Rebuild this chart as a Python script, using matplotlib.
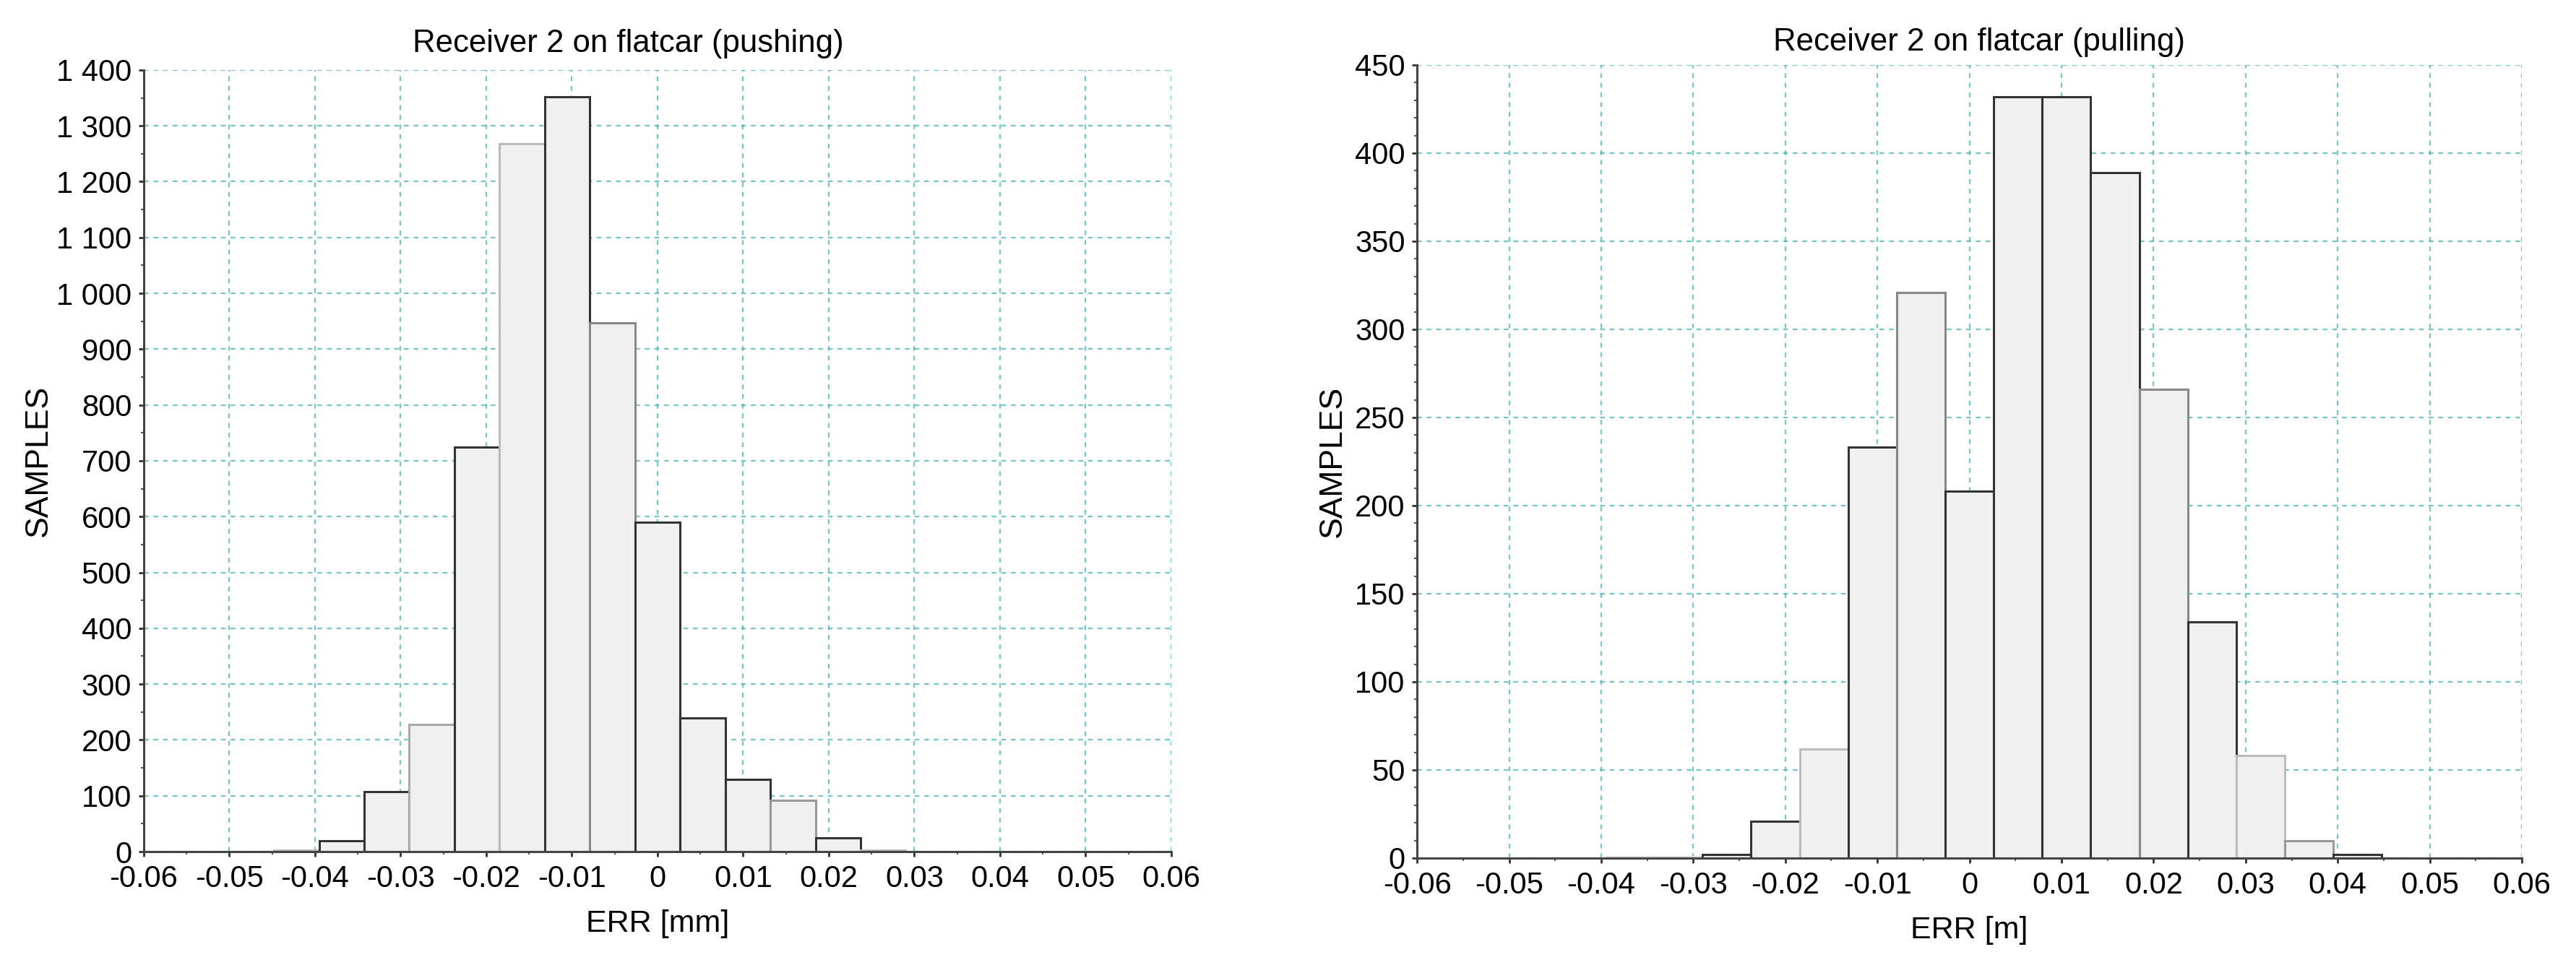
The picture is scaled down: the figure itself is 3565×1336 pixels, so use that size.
import numpy as np
import matplotlib.pyplot as plt
from matplotlib.ticker import MultipleLocator, FuncFormatter

plt.rcParams['font.family'] = ['Liberation Sans', 'DejaVu Sans']

# bin width (same for both histograms)
bin_w = 0.00527

# left: pushing
push_k = [-8, -7, -6, -5, -4, -3, -2, -1, 0, 1, 2, 3, 4, 5]
push_n = [3, 20, 108, 228, 725, 1268, 1352, 947, 590, 240, 130, 92, 25, 3]
push_edge = ['#bbbbbb', '#333333', '#333333', '#aaaaaa', '#333333', '#bbbbbb', '#333333',
             '#888888', '#333333', '#333333', '#333333', '#999999', '#333333', '#bbbbbb']

# right: pulling
pull_k = [-7, -6, -5, -4, -3, -2, -1, 0, 1, 2, 3, 4, 5, 6, 7, 8]
pull_n = [1, 1, 2, 21, 62, 233, 321, 208, 432, 432, 389, 266, 134, 58, 10, 2]
pull_edge = ['#dddddd', '#dddddd', '#333333', '#333333', '#bbbbbb', '#333333', '#888888', '#333333',
             '#333333', '#333333', '#333333', '#888888', '#333333', '#bbbbbb', '#999999', '#333333']

grid_col = '#3aaeae'


def fmt_x(v, pos):
    v = round(v, 2)
    if v == 0:
        return '0'
    return '%g' % v


def fmt_y(v, pos):
    s = '%d' % round(v)
    if len(s) > 3:
        s = s[:-3] + ' ' + s[-3:]
    return s


def draw(ax, k, n, edges, title, title_x, title_pad, xlabel, ylabel_x, ymax, ymajor, yminor):
    centers = np.array(k) * bin_w
    for c, h, e in zip(centers, n, edges):
        ax.bar(c, h, width=bin_w, color='#f0f0f0', edgecolor=e, linewidth=2.2, zorder=3)
    ax.set_xlim(-0.06, 0.06)
    ax.set_ylim(0, ymax)
    ax.xaxis.set_major_locator(MultipleLocator(0.01))
    ax.xaxis.set_minor_locator(MultipleLocator(0.005))
    ax.yaxis.set_major_locator(MultipleLocator(ymajor))
    ax.yaxis.set_minor_locator(MultipleLocator(yminor))
    ax.xaxis.set_major_formatter(FuncFormatter(fmt_x))
    ax.yaxis.set_major_formatter(FuncFormatter(fmt_y))
    ax.grid(True, which='major', color=grid_col, linestyle=(0, (3, 3)), linewidth=1.6, alpha=0.7, zorder=1)
    ax.set_axisbelow(True)
    for s in ['top', 'right']:
        ax.spines[s].set_visible(False)
    for s in ['left', 'bottom']:
        ax.spines[s].set_color('#444444')
        ax.spines[s].set_linewidth(2.2)
        ax.spines[s].set_zorder(4)
    ax.tick_params(which='major', length=5, width=2, color='#333333', labelsize=30)
    ax.tick_params(axis='x', which='major', pad=8)
    ax.tick_params(axis='y', which='major', pad=7)
    ax.tick_params(which='minor', length=3, width=1.5, color='#555555')
    ax.set_title(title, fontsize=31.5, pad=title_pad, x=title_x)
    ax.set_xlabel(xlabel, fontsize=31, labelpad=16)
    ax.set_ylabel('SAMPLES', fontsize=32)
    ax.yaxis.set_label_coords(ylabel_x, 0.5)


fig = plt.figure(figsize=(35.65, 13.36), dpi=100)
ax1 = fig.add_axes([0.0558, 0.1175, 0.3989, 0.810])
ax2 = fig.add_axes([0.5501, 0.1108, 0.4289, 0.8219])

draw(ax1, push_k, push_n, push_edge, 'Receiver 2 on flatcar (pushing)', 0.4715, 18,
     'ERR [mm]', -0.088, 1400, 100, 50)
draw(ax2, pull_k, pull_n, pull_edge, 'Receiver 2 on flatcar (pulling)', 0.509, 14.5,
     'ERR [m]', -0.063, 450, 50, 10)

fig.savefig('out.png', dpi=100)
